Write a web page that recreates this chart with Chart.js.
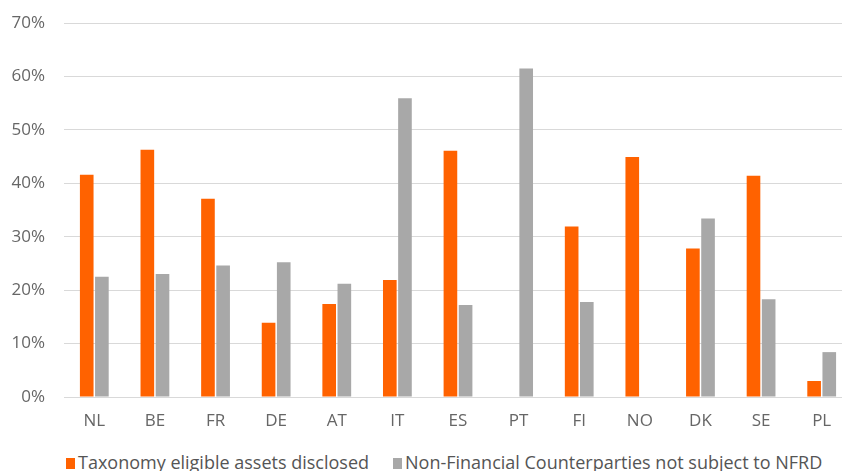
<!DOCTYPE html>
<html>
<head>
<meta charset="utf-8">
<script src="https://cdn.jsdelivr.net/npm/chart.js@4.4.0/dist/chart.umd.min.js"></script>
<style>
  html, body { margin: 0; padding: 0; background: #fff; overflow: hidden; }
  #wrap { position: relative; width: 842px; height: 471px; overflow: hidden; }
  #grafico { position: absolute; left: 0; top: 0; }
  #legenda {
    position: absolute; left: 66px; top: 451px; white-space: nowrap;
    font-family: "Open Sans", sans-serif; font-size: 18px; color: #555; line-height: 22px;
  }
  #legenda span.item { margin-right: 24px; }
  #legenda i { display: inline-block; width: 9px; height: 11px; margin-right: 3px; vertical-align: 0px; }
</style>
</head>
<body>
<div id="wrap">
  <canvas id="grafico" width="852" height="440"></canvas>
  <div id="legenda"></div>
</div>
<script>
const paises = ["NL", "BE", "FR", "DE", "AT", "IT", "ES", "PT", "FI", "NO", "DK", "SE", "PL"];
const taxonomia = [41.6, 46.3, 37.1, 13.9, 17.4, 21.9, 46.1, 0, 31.9, 44.9, 27.8, 41.4, 3.0];
const naoNfrd = [22.5, 23.0, 24.6, 25.2, 21.2, 55.9, 17.2, 61.5, 17.8, 0, 33.4, 18.3, 8.4];
const rotulosSeries = ["Taxonomy eligible assets disclosed", "Non-Financial Counterparties not subject to NFRD"];
const coresSeries = ["#FF6200", "#A8A8A8"];
const ticksY = [0, 10, 20, 30, 40, 50, 60, 70];

const fonte = { family: "'Open Sans', sans-serif", size: 17 };

const ctx = document.getElementById("grafico").getContext("2d");
new Chart(ctx, {
  type: "bar",
  data: {
    labels: paises,
    datasets: [
      { label: rotulosSeries[0], data: taxonomia, backgroundColor: coresSeries[0] },
      { label: rotulosSeries[1], data: naoNfrd, backgroundColor: coresSeries[1] }
    ]
  },
  options: {
    responsive: false,
    animation: false,
    categoryPercentage: 0.5,
    barPercentage: 0.9,
    layout: { padding: { top: 23, right: 0, left: 0, bottom: 0 } },
    plugins: {
      legend: { display: false },
      tooltip: { enabled: false }
    },
    scales: {
      x: {
        grid: { display: false },
        border: { display: false },
        ticks: { color: "#666", font: fonte, padding: 6, maxRotation: 0 },
        afterFit: s => { s.height = 43; }
      },
      y: {
        min: ticksY[0],
        max: ticksY[ticksY.length - 1],
        afterBuildTicks: s => { s.ticks = ticksY.map(v => ({ value: v })); },
        // marcas invisiveis so para afastar os rotulos do eixo
        grid: { color: "#d9d9d9", lineWidth: 1, drawTicks: true, tickLength: 16, tickColor: "rgba(0,0,0,0)" },
        border: { display: false },
        ticks: { color: "#666", font: fonte, padding: 3, callback: v => v + "%" },
        afterFit: s => { s.width = 64; }
      }
    }
  }
});

// Legenda
document.getElementById("legenda").innerHTML = rotulosSeries
  .map((r, i) => `<span class="item"><i style="background:${coresSeries[i]}"></i>${r}</span>`)
  .join("");
</script>
</body>
</html>
